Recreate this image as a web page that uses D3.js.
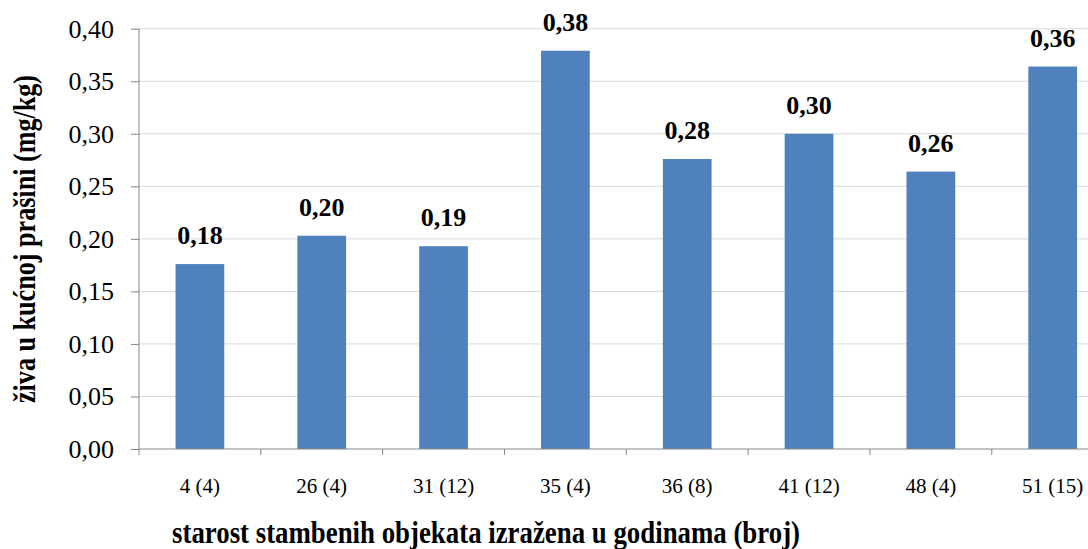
<!DOCTYPE html>
<html><head><meta charset="utf-8">
<script src="https://cdn.jsdelivr.net/npm/d3@7"></script>
<style>
html,body{margin:0;padding:0;background:#fff;}
svg{display:block;}
svg text{font-family:"Liberation Serif",serif !important;}
</style></head>
<body>
<svg id="chart" width="1088" height="549"></svg>
<script>
const categories = ["4 (4)", "26 (4)", "31 (12)", "35 (4)", "36 (8)", "41 (12)", "48 (4)", "51 (15)"];
const values = [0.176, 0.203, 0.193, 0.379, 0.276, 0.300, 0.264, 0.364];
const yTicks = [0, 0.05, 0.10, 0.15, 0.20, 0.25, 0.30, 0.35, 0.40];
const yTitle = "živa u kućnoj prašini (mg/kg)";
const xTitle = "starost stambenih objekata izražena u godinama (broj)";

const FONT = "Liberation Serif";
const svg = d3.select("#chart");
const pLeft = 139, pRight = 1113.6, pTop = 28.7, pBottom = 449;
const fmt = v => d3.format(".2f")(v).replace(".", ",");

const x = d3.scaleBand().domain(categories).range([pLeft, pRight]).paddingInner(0.6).paddingOuter(0.3);
const y = d3.scaleLinear().domain([0, 0.40]).range([pBottom, pTop]);

// gridlines
svg.append("g").selectAll("line").data(yTicks.slice(1)).join("line")
  .attr("x1", pLeft).attr("x2", 1088)
  .attr("y1", d => y(d)).attr("y2", d => y(d))
  .attr("stroke", "#d9d9d9").attr("stroke-width", 1);

// bars
svg.append("g").selectAll("rect").data(values).join("rect")
  .attr("x", (d, i) => x(categories[i]))
  .attr("width", x.bandwidth())
  .attr("y", d => y(d))
  .attr("height", d => y(0) - y(d))
  .attr("fill", "#4f81bd");

// data labels
svg.append("g").attr("font-family", FONT).selectAll("text").data(values).join("text")
  .attr("x", (d, i) => x(categories[i]) + x.bandwidth() / 2)
  .attr("y", d => y(d) - 20)
  .attr("text-anchor", "middle")
  .attr("font-weight", "bold")
  .attr("font-size", 26)
  .attr("fill", "#000")
  .text(d => fmt(d));

// y axis
const yAxis = svg.append("g").attr("transform", `translate(${pLeft},0)`)
  .call(d3.axisLeft(y).tickValues(yTicks).tickSize(8).tickPadding(17).tickFormat(fmt));
yAxis.attr("font-family", FONT);
yAxis.select(".domain").attr("stroke", "#868686").attr("d", `M0,${pBottom}V${pTop}`);
yAxis.selectAll(".tick line").attr("stroke", "#868686");
yAxis.selectAll(".tick text").attr("font-size", 26).attr("fill", "#000");

// x axis
const xAxis = svg.append("g").attr("transform", `translate(0,${pBottom})`).attr("font-family", FONT);
xAxis.append("line").attr("x1", pLeft).attr("x2", 1088).attr("y1", 0).attr("y2", 0).attr("stroke", "#868686");
const step = x.step();
const boundaries = d3.range(categories.length + 1).map(i => pLeft + i * step);
xAxis.selectAll("line.tk").data(boundaries).join("line").attr("class", "tk")
  .attr("x1", d => d).attr("x2", d => d).attr("y1", 0).attr("y2", 6).attr("stroke", "#868686");
xAxis.selectAll("text").data(categories).join("text")
  .attr("x", d => x(d) + x.bandwidth() / 2)
  .attr("y", 44)
  .attr("text-anchor", "middle")
  .attr("font-size", 21)
  .attr("fill", "#000")
  .text(d => d);

// titles
svg.append("text")
  .attr("transform", "translate(35,239) rotate(-90)")
  .attr("text-anchor", "middle")
  .attr("font-family", FONT)
  .attr("font-weight", "bold")
  .attr("font-size", 32)
  .attr("textLength", 328)
  .attr("lengthAdjust", "spacingAndGlyphs")
  .text(yTitle);

svg.append("text")
  .attr("x", 172).attr("y", 543)
  .attr("font-family", FONT)
  .attr("font-weight", "bold")
  .attr("font-size", 31)
  .attr("textLength", 628)
  .attr("lengthAdjust", "spacingAndGlyphs")
  .text(xTitle);
</script>
</body></html>
